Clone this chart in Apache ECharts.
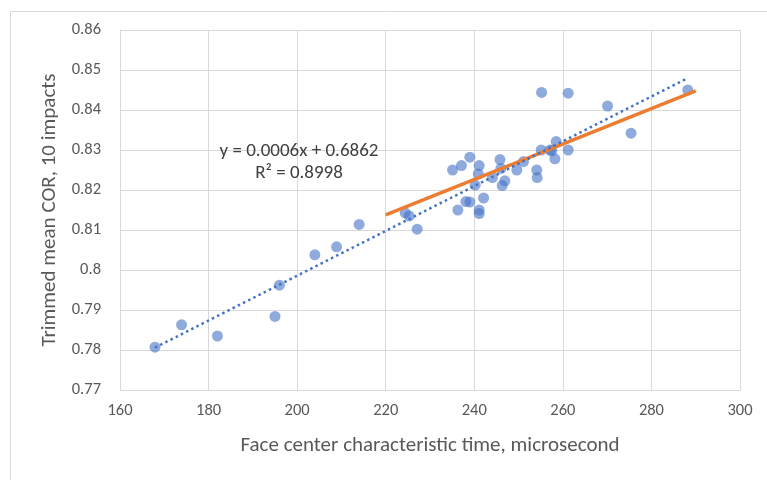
<!DOCTYPE html>
<html>
<head>
<meta charset="utf-8">
<script src="https://cdn.jsdelivr.net/npm/echarts@6/dist/echarts.min.js"></script>
<style>
html,body{margin:0;padding:0;background:#fff;}
#chart{width:767px;height:480px;}
</style>
</head>
<body>
<div id="chart"></div>
<script>
// Face center characteristic time (microsecond)
var timeValues = [167.9, 173.9, 182.0, 195.0, 196.0, 204.0, 208.9, 214.0, 224.4, 225.3,
  227.1, 235.1, 236.3, 237.1, 238.1, 239.0, 239.0, 240.2, 241.1, 240.9,
  241.1, 241.1, 242.1, 244.1, 245.8, 246.0, 246.9, 246.3, 249.6, 251.1,
  254.1, 254.2, 255.1, 255.2, 257.1, 257.5, 258.5, 258.2, 261.2, 261.2,
  270.1, 275.4, 288.2];
// Trimmed mean COR, 10 impacts
var corValues = [0.7807, 0.7863, 0.7835, 0.7884, 0.7962, 0.8038, 0.8058, 0.8114, 0.8143, 0.8135,
  0.8102, 0.8250, 0.8150, 0.8261, 0.8171, 0.8170, 0.8282, 0.8212, 0.8261, 0.8240,
  0.8150, 0.8141, 0.8180, 0.8231, 0.8276, 0.8254, 0.8223, 0.8211, 0.8250, 0.8271,
  0.8250, 0.8231, 0.8300, 0.8444, 0.8300, 0.8298, 0.8321, 0.8278, 0.8300, 0.8442,
  0.8410, 0.8342, 0.8450];
// Orange reference line endpoints
var refLineX = [220, 290];
var refLineY = [0.8138, 0.8448];
var equationText = 'y = 0.0006x + 0.6862';
var r2Text = 'R\u00B2 = 0.8998';
var xAxisTitle = 'Face center characteristic time, microsecond';
var yAxisTitle = 'Trimmed mean COR, 10 impacts';

var points = timeValues.map(function (x, i) { return [x, corValues[i]]; });

// Linear least-squares trendline computed from the data
var n = timeValues.length, sx = 0, sy = 0, sxx = 0, sxy = 0;
for (var i = 0; i < n; i++) {
  sx += timeValues[i]; sy += corValues[i];
  sxx += timeValues[i] * timeValues[i]; sxy += timeValues[i] * corValues[i];
}
var slope = (n * sxy - sx * sy) / (n * sxx - sx * sx);
var intercept = (sy - slope * sx) / n;
var xMin = Math.min.apply(null, timeValues), xMax = Math.max.apply(null, timeValues);
var trend = [[xMin, intercept + slope * xMin], [xMax, intercept + slope * xMax]];
var refLine = refLineX.map(function (x, i) { return [x, refLineY[i]]; });

var FONT = 'Carlito, Lato, "Open Sans", sans-serif';
var chart = echarts.init(document.getElementById('chart'), null, {renderer: 'canvas'});
chart.setOption({
  animation: false,
  backgroundColor: '#fff',
  grid: {left: 120, top: 30, right: 27, bottom: 90},
  xAxis: {
    type: 'value', min: 160, max: 300, interval: 20,
    name: xAxisTitle, nameLocation: 'middle', nameGap: 45,
    nameTextStyle: {fontFamily: FONT, fontSize: 21, color: '#595959'},
    axisLine: {show: true, lineStyle: {color: '#d9d9d9', width: 1}},
    axisTick: {show: false},
    axisLabel: {fontFamily: FONT, fontSize: 16.5, color: '#595959', margin: 12},
    splitLine: {show: true, lineStyle: {color: '#d9d9d9', width: 1}}
  },
  yAxis: {
    type: 'value', min: 0.77, max: 0.86, interval: 0.01,
    name: yAxisTitle, nameLocation: 'middle', nameGap: 60, nameRotate: 90,
    nameTextStyle: {fontFamily: FONT, fontSize: 21, color: '#595959'},
    axisLine: {show: true, lineStyle: {color: '#d9d9d9', width: 1}},
    axisTick: {show: false},
    axisLabel: {fontFamily: FONT, fontSize: 16.5, color: '#595959', margin: 19,
      formatter: function (v) { return String(parseFloat(v.toFixed(2))); }},
    splitLine: {show: true, lineStyle: {color: '#d9d9d9', width: 1}}
  },
  graphic: [
    {type: 'rect', left: 8, top: 9, shape: {width: 780, height: 500}, silent: true, z: -10,
      style: {fill: 'none', stroke: '#d9d9d9', lineWidth: 1}},
    {type: 'text', x: 299, y: 151, z: 100,
      style: {text: equationText, fontFamily: FONT, fontSize: 19, fill: '#404040',
        textAlign: 'center', textVerticalAlign: 'middle'}},
    {type: 'text', x: 299, y: 173, z: 100,
      style: {text: r2Text, fontFamily: FONT, fontSize: 19, fill: '#404040',
        textAlign: 'center', textVerticalAlign: 'middle'}}
  ],
  series: [
    {
      type: 'scatter', data: points, symbol: 'circle', symbolSize: 11,
      itemStyle: {color: '#4472C4', opacity: 0.6}, z: 2
    },
    {
      type: 'line', data: refLine, symbol: 'none', z: 3,
      lineStyle: {color: '#ED7D31', width: 3.5, cap: 'butt'}
    },
    {
      type: 'line', data: trend, symbol: 'none', z: 4,
      lineStyle: {color: '#4472C4', width: 2.5, type: [2.5, 3.3], cap: 'butt'}
    }
  ]
});
</script>
</body>
</html>
